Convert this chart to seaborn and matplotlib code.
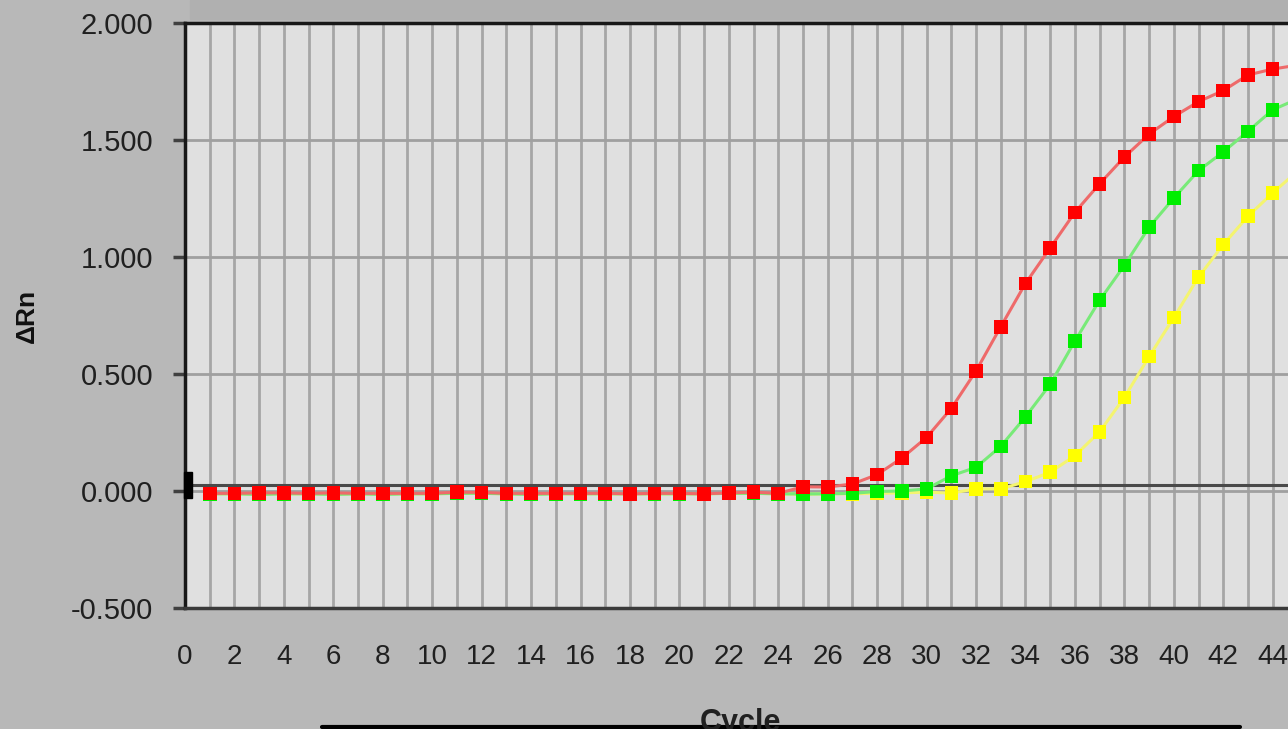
import numpy as np
import pandas as pd
import matplotlib
import matplotlib.pyplot as plt
from matplotlib.lines import Line2D
from matplotlib.patches import Rectangle
from matplotlib.ticker import MultipleLocator
import seaborn as sns

# --- data ---
cycles = list(range(1, 46))

red = [-0.010, -0.010, -0.008, -0.008, -0.010, -0.008, -0.010, -0.010, -0.010, -0.010,
       -0.005, -0.006, -0.010, -0.010, -0.010, -0.010, -0.010, -0.012, -0.010, -0.010,
       -0.012, -0.008, -0.005, -0.010, 0.018, 0.017, 0.030, 0.070, 0.141, 0.229,
       0.353, 0.513, 0.702, 0.887, 1.039, 1.191, 1.313, 1.427, 1.525, 1.600,
       1.664, 1.711, 1.778, 1.803, 1.820]

green = [-0.012, -0.012, -0.015, -0.012, -0.012, -0.015, -0.012, -0.015, -0.012, -0.012,
         -0.010, -0.010, -0.012, -0.015, -0.012, -0.012, -0.012, -0.012, -0.012, -0.012,
         -0.012, -0.010, -0.010, -0.012, -0.013, -0.012, -0.010, -0.002, 0.000, 0.009,
         0.065, 0.101, 0.191, 0.317, 0.456, 0.641, 0.815, 0.964, 1.127, 1.252,
         1.369, 1.449, 1.537, 1.629, 1.675]

yellow = [-0.012, -0.012, -0.012, -0.012, -0.012, -0.012, -0.012, -0.012, -0.012, -0.012,
          -0.010, -0.010, -0.012, -0.012, -0.012, -0.012, -0.012, -0.012, -0.012, -0.012,
          -0.012, -0.010, -0.010, -0.012, -0.014, -0.012, -0.012, -0.010, -0.008, -0.005,
          -0.009, 0.009, 0.009, 0.040, 0.080, 0.151, 0.253, 0.400, 0.574, 0.741,
          0.914, 1.053, 1.174, 1.274, 1.366]

threshold = 0.025

samples = ["yellow", "green", "red"]
marker_colors = {"yellow": "#ffff00", "green": "#00ee00", "red": "#ff0000"}
line_colors = {"yellow": "#f4f470", "green": "#78ea78", "red": "#ee6a6a"}

df = pd.DataFrame({"Cycle": cycles, "yellow": yellow, "green": green, "red": red})
df = df.melt(id_vars="Cycle", var_name="Sample", value_name="dRn")
df["Sample"] = pd.Categorical(df["Sample"], categories=samples, ordered=True)
df = df.sort_values(["Sample", "Cycle"]).reset_index(drop=True)

# --- style ---
sns.set_style("white", {"axes.facecolor": "#e0e0e0", "figure.facecolor": "#b8b8b8"})
plt.rcParams["font.family"] = ["Liberation Sans", "DejaVu Sans"]

fig = plt.figure(figsize=(12.88, 7.29), dpi=100)
ax = fig.add_axes([185 / 1288, 1 - 608 / 729, 1 - 185 / 1288, (608 - 23) / 729])
ax.set_facecolor("#e0e0e0")

# darker strip along the top of the window
fig.add_artist(Rectangle((190 / 1288, 1 - 19 / 729), 1, 19 / 729,
                         transform=fig.transFigure, color="#b0b0b0", zorder=0))

# grid
for c in range(1, 46):
    ax.axvline(c, color="#a6a6a6", lw=2.0, zorder=1)
for v in [0.0, 0.5, 1.0, 1.5]:
    ax.axhline(v, color="#a0a0a0", lw=2.0, zorder=1)

# threshold line and handle
ax.axhline(threshold, color="#4a4a4a", lw=2.2, zorder=2)

sns.lineplot(data=df, x="Cycle", y="dRn", hue="Sample", hue_order=samples,
             palette=line_colors, linewidth=2.2, legend=False, ax=ax, zorder=3)
sns.scatterplot(data=df, x="Cycle", y="dRn", hue="Sample", hue_order=samples,
                palette=marker_colors, marker="s", s=96, edgecolor="none",
                legend=False, ax=ax, zorder=4)

ax.add_patch(Rectangle((-0.05, threshold - 0.055), 0.35, 0.11, color="#000000",
                       zorder=6, clip_on=False))

ax.set_xlim(0, 44.62)
ax.set_ylim(-0.5, 2.0)

ax.xaxis.set_major_locator(MultipleLocator(2))
ax.xaxis.set_minor_locator(MultipleLocator(1))
ax.set_yticks([-0.5, 0.0, 0.5, 1.0, 1.5, 2.0])
ax.set_yticklabels(["-0.500", "0.000", "0.500", "1.000", "1.500", "2.000"])

ax.tick_params(axis="x", which="both", direction="out", length=9, width=2,
               color="#303030", labelsize=20, labelcolor="#202020", pad=17)
ax.tick_params(axis="x", which="minor", labelbottom=False)
ax.tick_params(axis="y", direction="out", length=9, width=2.5, color="#404040",
               labelsize=21, labelcolor="#202020", pad=14, left=True)

for side in ["left", "top"]:
    ax.spines[side].set_color("#181818")
    ax.spines[side].set_linewidth(2.5)
ax.spines["bottom"].set_color("#3a3a3a")
ax.spines["bottom"].set_linewidth(2.5)
ax.spines["right"].set_visible(False)

ax.set_xlabel("")
ax.set_ylabel("")
fig.text(27 / 1288, 1 - 316 / 729, "ΔRn", rotation=90, ha="center", va="center",
         fontsize=19, fontweight="bold", color="#101010")
fig.text(740 / 1288, 1 - 708 / 729, "Cycle", ha="center", va="top",
         fontsize=22, fontweight="bold", color="#202020")

fig.add_artist(Line2D([322 / 1288, 1240 / 1288], [1 - 727 / 729, 1 - 727 / 729],
                      transform=fig.transFigure, color="#000000", lw=3))

fig.savefig("out.png", dpi=100, facecolor=fig.get_facecolor())
